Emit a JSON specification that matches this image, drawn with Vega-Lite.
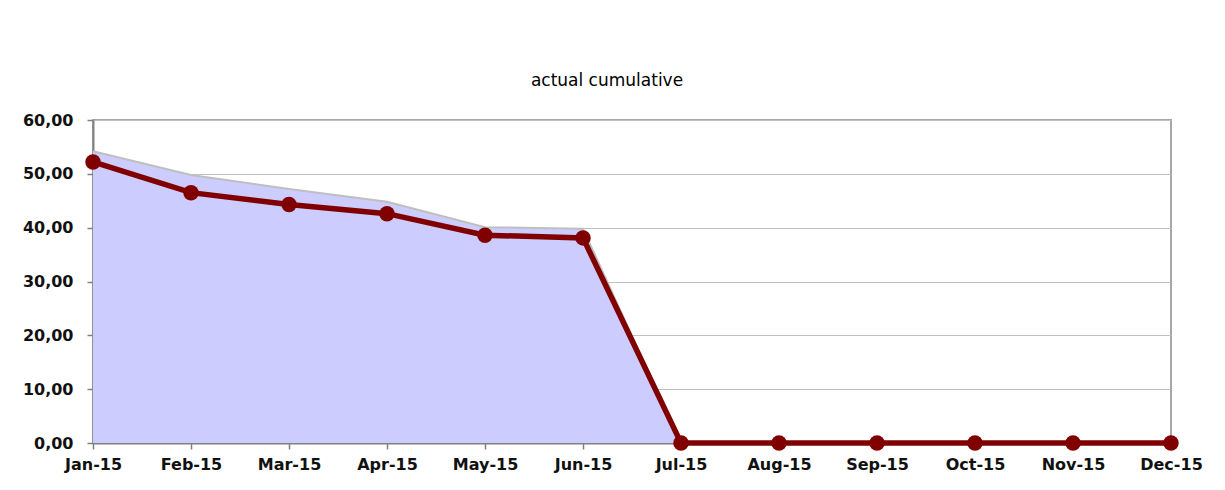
{
  "$schema": "https://vega.github.io/schema/vega-lite/v6.json",
  "width": 1078,
  "height": 323,
  "autosize": {"type": "none"},
  "padding": {"left": 93, "top": 120, "right": 54, "bottom": 47},
  "background": "white",
  "title": {
    "text": "actual cumulative",
    "font": "DejaVu Sans",
    "fontSize": 17,
    "fontWeight": "normal",
    "color": "#000000",
    "anchor": "middle",
    "frame": "group",
    "offset": 22,
    "dx": -25
  },
  "config": {
    "view": {"stroke": "#a6a6a6", "strokeWidth": 2},
    "axis": {
      "labelFont": "DejaVu Sans",
      "labelFontSize": 16,
      "labelFontWeight": "bold",
      "labelColor": "#111111",
      "domainColor": "#808080",
      "domainWidth": 2,
      "tickColor": "#808080",
      "tickWidth": 1.5,
      "tickSize": 6,
      "title": null
    }
  },
  "data": {
    "values": [
      {"month": "Jan-15", "actual": 52.2, "upper": 54.2},
      {"month": "Feb-15", "actual": 46.5, "upper": 49.8},
      {"month": "Mar-15", "actual": 44.3, "upper": 47.2},
      {"month": "Apr-15", "actual": 42.6, "upper": 44.8},
      {"month": "May-15", "actual": 38.6, "upper": 40.1},
      {"month": "Jun-15", "actual": 38.1, "upper": 39.8},
      {"month": "Jul-15", "actual": 0, "upper": 0},
      {"month": "Aug-15", "actual": 0, "upper": 0},
      {"month": "Sep-15", "actual": 0, "upper": 0},
      {"month": "Oct-15", "actual": 0, "upper": 0},
      {"month": "Nov-15", "actual": 0, "upper": 0},
      {"month": "Dec-15", "actual": 0, "upper": 0}
    ]
  },
  "encoding": {
    "x": {
      "field": "month",
      "type": "ordinal",
      "sort": null,
      "scale": {"type": "point", "padding": 0},
      "axis": {"labelAngle": 0, "labelPadding": 7, "grid": false}
    }
  },
  "layer": [
    {
      "mark": {"type": "area", "color": "#ccccff", "opacity": 1, "line": {"color": "#bfbfbf", "strokeWidth": 2}},
      "encoding": {
        "y": {
          "field": "upper",
          "type": "quantitative",
          "scale": {"domain": [0, 60], "nice": false},
          "axis": {
            "values": [0, 10, 20, 30, 40, 50, 60],
            "labelExpr": "replace(format(datum.value, '.2f'), '.', ',')",
            "grid": true,
            "gridColor": "#c0c0c0",
            "gridWidth": 1,
            "labelPadding": 14
          }
        }
      }
    },
    {
      "mark": {"type": "line", "color": "#800000", "strokeWidth": 5.5},
      "encoding": {"y": {"field": "actual", "type": "quantitative"}}
    },
    {
      "mark": {"type": "circle", "color": "#800000", "opacity": 1, "size": 240},
      "encoding": {"y": {"field": "actual", "type": "quantitative"}}
    }
  ]
}
